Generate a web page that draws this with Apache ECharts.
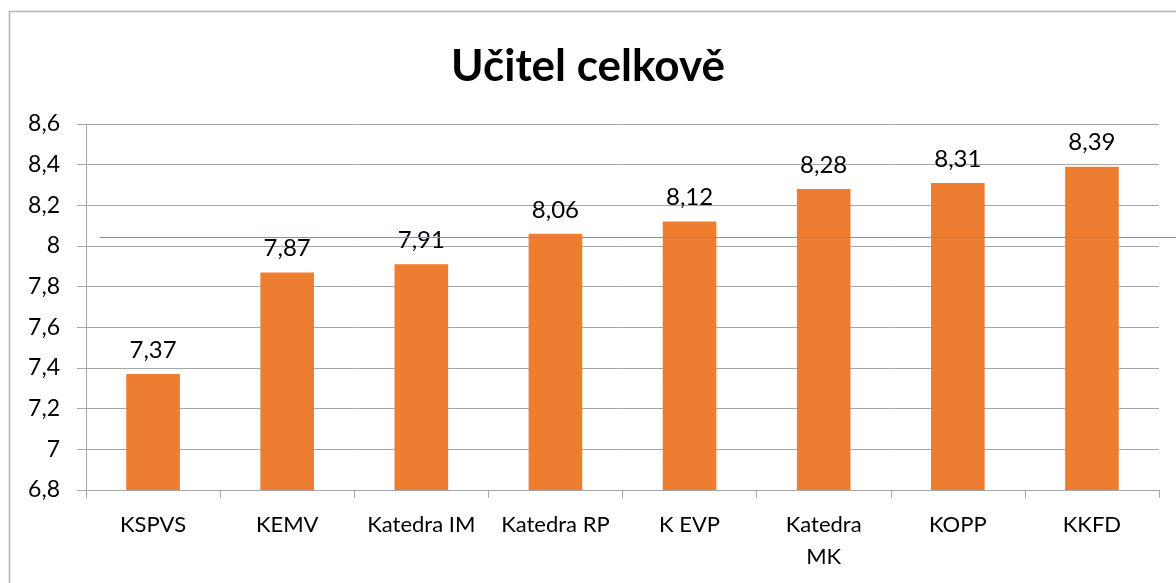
<!DOCTYPE html>
<html>
<head>
<meta charset="utf-8">
<script src="https://cdn.jsdelivr.net/npm/echarts@6/dist/echarts.min.js"></script>
<style>
  html, body { margin: 0; padding: 0; background: #fff; }
  #chart { width: 1176px; height: 583px; }
</style>
</head>
<body>
<div id="chart"></div>
<script>
// data
const categories = ['KSPVS', 'KEMV', 'Katedra IM', 'Katedra RP', 'K EVP', 'Katedra MK', 'KOPP', 'KKFD']
const values = [7.37, 7.87, 7.91, 8.06, 8.12, 8.28, 8.31, 8.39]
const yTicks = { min: 6.8, max: 8.6, step: 0.2 }

const FONT = 'Lato, "Open Sans", sans-serif'
const comma = v => String(+v.toFixed(2)).replace('.', ',')

const chart = echarts.init(document.getElementById('chart'))
const option = {
  animation: false,
  title: {
    text: 'Učitel celkově',
    left: 'center',
    top: 40,
    textStyle: { fontFamily: FONT, fontSize: 44, fontWeight: 'bold', color: '#000' }
  },
  grid: { left: 86, right: 17, top: 124, bottom: 93 },
  xAxis: {
    type: 'category',
    data: categories,
    axisLine: { lineStyle: { color: '#a6a6a6', width: 1 } },
    axisTick: { show: true, length: 8, lineStyle: { color: '#a6a6a6' } },
    axisLabel: {
      interval: 0,
      margin: 19,
      fontFamily: FONT,
      fontSize: 22,
      color: '#000',
      lineHeight: 32,
      formatter: v => v === 'Katedra MK' ? 'Katedra\nMK' : v
    }
  },
  yAxis: {
    type: 'value',
    min: yTicks.min,
    max: yTicks.max,
    interval: yTicks.step,
    axisLine: { show: true, lineStyle: { color: '#a6a6a6', width: 1 } },
    axisTick: { show: true, length: 9, lineStyle: { color: '#a6a6a6' } },
    splitLine: { lineStyle: { color: '#a6a6a6', width: 1 } },
    axisLabel: {
      margin: 26,
      fontFamily: FONT,
      fontSize: 23,
      color: '#000',
      formatter: comma
    }
  },
  series: [{
    type: 'bar',
    data: values,
    barWidth: '40%',
    itemStyle: { color: '#ed7d31' },
    label: {
      show: true,
      position: 'top',
      distance: 12,
      fontFamily: FONT,
      fontSize: 24,
      color: '#000',
      formatter: p => comma(p.value)
    }
  }],
  graphic: [
    // outer chart frame
    { type: 'rect', shape: { x: 9.5, y: 11.5, width: 1200, height: 620 },
      style: { fill: 'none', stroke: '#b3b3b3', lineWidth: 1.5 }, silent: true },
    // stray thin blue line across the chart
    { type: 'line', shape: { x1: 100, y1: 237.5, x2: 1176, y2: 237.5 },
      style: { stroke: '#5b9bd5', lineWidth: 1 }, z: 100, silent: true }
  ]
}
chart.setOption(option)
</script>
</body>
</html>
